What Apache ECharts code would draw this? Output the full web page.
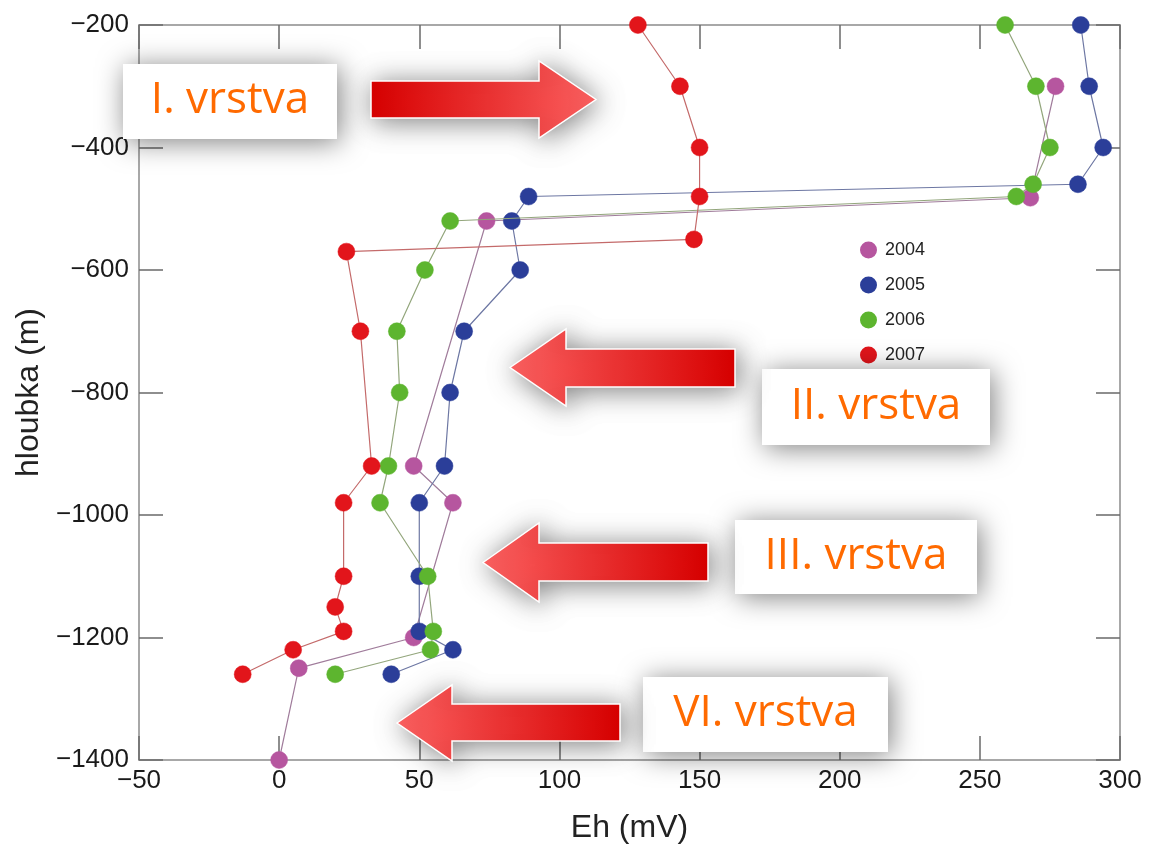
<!DOCTYPE html>
<html><head><meta charset="utf-8">
<script src="https://cdn.jsdelivr.net/npm/echarts@6/dist/echarts.min.js"></script>
<style>html,body{margin:0;padding:0;background:#fff}#c{width:1151px;height:849px}</style>
</head><body><div id="c"></div>
<script>
// ---- data ----
const seriesNames = ['2004', '2005', '2006', '2007'];
const eh2004    = [277, 268, 74, 48, 62, 48, 7, 0];
const depth2004 = [-300, -482, -520, -920, -980, -1200, -1250, -1400];
const eh2005    = [286, 289, 294, 285, 89, 83, 86, 66, 61, 59, 50, 50, 50, 62, 40];
const depth2005 = [-200, -300, -400, -460, -480, -520, -600, -700, -800, -920, -980, -1100, -1190, -1220, -1260];
const eh2006    = [259, 270, 275, 269, 263, 61, 52, 42, 43, 39, 36, 53, 55, 54, 20];
const depth2006 = [-200, -300, -400, -460, -480, -520, -600, -700, -800, -920, -980, -1100, -1190, -1220, -1260];
const eh2007    = [128, 143, 150, 150, 148, 24, 29, 33, 23, 23, 20, 23, 5, -13];
const depth2007 = [-200, -300, -400, -480, -550, -570, -700, -920, -980, -1100, -1150, -1190, -1220, -1260];
const layerLabels = ['I. vrstva', 'II. vrstva', 'III. vrstva', 'VI. vrstva'];
const xName = 'Eh (mV)';
const yName = 'hloubka (m)';

// ---- styles ----
const markerColors = ['#b6569f', '#2b3e99', '#5db52f', '#e2151b'];
const lineColors = ['#a07c9b', '#6d77a3', '#93a67c', '#c46a6a'];
const pairs = (xs, ys) => xs.map((v, i) => [v, ys[i]]);
const allData = [pairs(eh2004, depth2004), pairs(eh2005, depth2005), pairs(eh2006, depth2006), pairs(eh2007, depth2007)];
const minus = v => String(v).replace('-', '\u2212');
const axisFont = 'Liberation Sans, Arial, sans-serif';

const frame = { show: true, onZero: false, lineStyle: { color: '#a8a8a8', width: 2 } };
const ticks = { show: true, inside: true, length: 24, lineStyle: { color: '#6a6a6a', width: 1.5 } };
const shadow = { shadowBlur: 28, shadowColor: 'rgba(0,0,0,0.5)', shadowOffsetX: 3, shadowOffsetY: 3 };

const chart = echarts.init(document.getElementById('c'));

function arrow(points, tipX, tailX) {
  return {
    type: 'polygon', z: 100,
    shape: { points: points },
    style: Object.assign({
      fill: new echarts.graphic.LinearGradient(0, 0, 1, 0, tipX > tailX
        ? [{ offset: 0, color: '#dc0000' }, { offset: 1, color: '#ff6262' }]
        : [{ offset: 0, color: '#ff6262' }, { offset: 1, color: '#dc0000' }]),
      stroke: '#ffffff', lineWidth: 1.5
    }, shadow)
  };
}
function box(x, y, w, h, label) {
  return [{
    type: 'rect', z: 100,
    shape: { x: x, y: y, width: w, height: h },
    style: Object.assign({ fill: '#ffffff' }, shadow)
  }, {
    type: 'text', z: 101,
    x: x + w / 2, y: y + h / 2 - 1,
    style: { text: label, fill: '#ff6a00', font: '44px "Open Sans", sans-serif', align: 'center', verticalAlign: 'middle' }
  }];
}

const graphics = [].concat(
  box(123, 64, 214, 75, layerLabels[0]),
  box(762, 369, 228, 76, layerLabels[1]),
  box(735, 520, 242, 74, layerLabels[2]),
  box(643, 677, 245, 75, layerLabels[3]),
  [
    arrow([[371, 81], [539, 81], [539, 61], [596, 99.5], [539, 138], [539, 118], [371, 118]], 596, 371),
    arrow([[510, 367.5], [566, 329], [566, 349], [735, 349], [735, 387], [566, 387], [566, 406]], 510, 735),
    arrow([[483, 562.5], [539, 523], [539, 543], [708, 543], [708, 581], [539, 581], [539, 602]], 483, 708),
    arrow([[397, 723], [452, 685], [452, 704], [620, 704], [620, 741], [452, 741], [452, 761]], 397, 620)
  ]
);

chart.setOption({
  animation: false,
  backgroundColor: '#ffffff',
  grid: { left: 139, top: 25, right: 31, bottom: 86 },
  legend: {
    data: seriesNames,
    orient: 'vertical', left: 855, top: 236,
    itemWidth: 15, itemHeight: 15, itemGap: 17,
    icon: 'circle',
    textStyle: { fontFamily: axisFont, fontSize: 18, color: '#222', padding: [0, 0, 0, 4] }
  },
  xAxis: [{
    type: 'value', position: 'bottom', min: -50, max: 300, interval: 50,
    name: xName, nameLocation: 'middle', nameGap: 52,
    nameTextStyle: { fontFamily: axisFont, fontSize: 32, color: '#222' },
    axisLine: frame, axisTick: ticks, splitLine: { show: false },
    axisLabel: { fontFamily: axisFont, fontSize: 26, color: '#1a1a1a', margin: 8, formatter: minus }
  }, {
    type: 'value', position: 'top', min: -50, max: 300, interval: 50,
    axisLine: frame, axisTick: ticks, splitLine: { show: false }, axisLabel: { show: false }
  }],
  yAxis: [{
    type: 'value', position: 'left', min: -1400, max: -200, interval: 200,
    name: yName, nameLocation: 'middle', nameGap: 88,
    nameTextStyle: { fontFamily: axisFont, fontSize: 32, color: '#222' },
    axisLine: frame, axisTick: ticks, splitLine: { show: false },
    axisLabel: { fontFamily: axisFont, fontSize: 26, color: '#1a1a1a', margin: 10, formatter: minus }
  }, {
    type: 'value', position: 'right', min: -1400, max: -200, interval: 200,
    axisLine: frame, axisTick: ticks, splitLine: { show: false }, axisLabel: { show: false }
  }],
  series: seriesNames.map((n, i) => ({
    name: n, type: 'line', data: allData[i],
    xAxisIndex: 0, yAxisIndex: 0,
    symbol: 'circle', symbolSize: 17, showSymbol: true,
    itemStyle: { color: markerColors[i], borderColor: markerColors[i], borderWidth: 0.5 },
    lineStyle: { color: lineColors[i], width: 1.2 },
    z: 2 + i
  })),
  graphic: graphics
});
</script>
</body></html>
